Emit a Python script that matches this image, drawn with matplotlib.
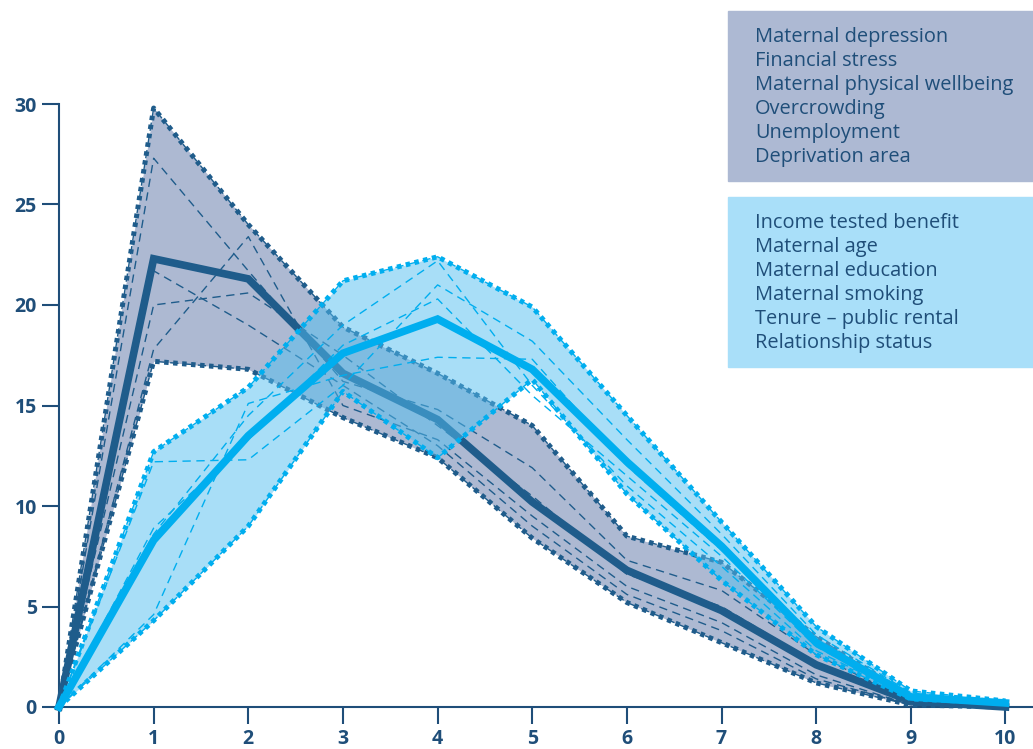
import numpy as np
import matplotlib.pyplot as plt

# x = age / category position
x = np.arange(0, 11)

# dark group (maternal depression, financial stress, ...)
dark_upper = [0, 29.8, 24.0, 18.9, 16.6, 14.0, 8.5, 7.2, 3.5, 0.5, 0.1]
dark_lower = [0, 17.2, 16.8, 14.4, 12.4, 8.4, 5.2, 3.2, 1.2, 0.1, 0.0]
dark_mean = [0, 22.3, 21.3, 16.6, 14.3, 10.2, 6.8, 4.8, 2.1, 0.3, 0.0]
dark_series = [
    [0, 27.3, 21.7, 16.2, 14.8, 11.9, 7.3, 5.8, 2.6, 0.3, 0.0],
    [0, 20.0, 20.6, 17.5, 14.0, 10.5, 6.6, 5.0, 2.2, 0.2, 0.0],
    [0, 17.8, 23.4, 15.0, 13.3, 9.5, 6.0, 4.2, 1.6, 0.1, 0.0],
    [0, 21.7, 19.0, 16.0, 13.0, 9.0, 5.6, 3.8, 1.4, 0.1, 0.0],
]

# light group (income tested benefit, maternal age, ...)
light_upper = [0, 12.7, 15.9, 21.2, 22.4, 19.9, 14.5, 9.2, 4.0, 0.8, 0.3]
light_lower = [0, 4.3, 9.0, 15.7, 12.4, 16.3, 10.6, 6.3, 2.6, 0.4, 0.2]
light_mean = [0, 8.3, 13.5, 17.6, 19.3, 16.8, 12.2, 8.0, 3.2, 0.5, 0.2]
light_series = [
    [0, 12.2, 12.3, 16.0, 21.0, 18.2, 13.3, 8.6, 3.6, 0.7, 0.2],
    [0, 8.9, 13.3, 18.0, 20.3, 15.5, 11.5, 7.5, 3.0, 0.5, 0.2],
    [0, 4.6, 15.1, 16.5, 17.4, 17.3, 12.0, 7.8, 3.3, 0.6, 0.2],
    [0, 8.6, 14.5, 19.0, 22.2, 16.0, 11.0, 7.0, 2.8, 0.5, 0.2],
]

dark_labels = ["Maternal depression", "Financial stress", "Maternal physical wellbeing",
               "Overcrowding", "Unemployment", "Deprivation area"]
light_labels = ["Income tested benefit", "Maternal age", "Maternal education",
                "Maternal smoking", "Tenure \u2013 public rental", "Relationship status"]

navy = "#1f4e79"
dark_col = "#1f5c8b"
light_col = "#00aeef"

plt.rcParams['font.family'] = ['Open Sans', 'DejaVu Sans']

fig = plt.figure(figsize=(10.33, 7.49), dpi=100)
ax = fig.add_axes([59 / 1033, 42 / 749, 974 / 1033, 603 / 749])

dash = (0, (6, 4))
dots = (0, (0.9, 0.9))

# dark band
ax.fill_between(x, dark_lower, dark_upper, color="#5d75a7", alpha=0.5, lw=0, zorder=1)
for s in dark_series:
    ax.plot(x, s, color=dark_col, lw=1, ls=dash, zorder=2, clip_on=False)
for s in (dark_upper, dark_lower):
    ax.plot(x, s, color=dark_col, lw=1, ls=dash, zorder=2, clip_on=False)
    ax.plot(x, s, color=dark_col, lw=3.6, ls=dots, zorder=3, clip_on=False)
ax.plot(x, dark_mean, color=dark_col, lw=5.5, solid_joinstyle='miter', zorder=4, clip_on=False)

# light band
ax.fill_between(x, light_lower, light_upper, color="#53bff1", alpha=0.5, lw=0, zorder=5)
for s in light_series:
    ax.plot(x, s, color=light_col, lw=1, ls=dash, zorder=6, clip_on=False)
for s in (light_upper, light_lower):
    ax.plot(x, s, color=light_col, lw=1, ls=dash, zorder=6, clip_on=False)
    ax.plot(x, s, color=light_col, lw=3.6, ls=dots, zorder=7, clip_on=False)
ax.plot(x, light_mean, color=light_col, lw=5.5, solid_joinstyle='miter', zorder=8, clip_on=False)

ax.set_xlim(0, 974 / 94.65)
ax.set_ylim(0, 30)
ax.set_xticks(range(0, 11))
ax.set_yticks(range(0, 31, 5))
for sp in ("top", "right"):
    ax.spines[sp].set_visible(False)
for sp in ("left", "bottom"):
    ax.spines[sp].set_color(navy)
    ax.spines[sp].set_linewidth(1.5)
ax.tick_params(colors=navy, length=12, width=1.5, labelsize=14, pad=4)
for lab in ax.get_xticklabels() + ax.get_yticklabels():
    lab.set_fontweight("bold")

# legend boxes
def box(y0, y1, fc, labels):
    fig.patches.append(plt.Rectangle((728 / 1033, 1 - y1 / 749), 305 / 1033, (y1 - y0) / 749,
                                     transform=fig.transFigure, color=fc, zorder=0))
    for i, t in enumerate(labels):
        fig.text(755 / 1033, 1 - (y0 + 26 + 24 * i) / 749, t, color=navy, fontsize=14.4,
                 va="center", ha="left")

box(11, 181, "#adb9d3", dark_labels)
box(197, 367, "#a9dff9", light_labels)

fig.savefig("out.png", dpi=100)
